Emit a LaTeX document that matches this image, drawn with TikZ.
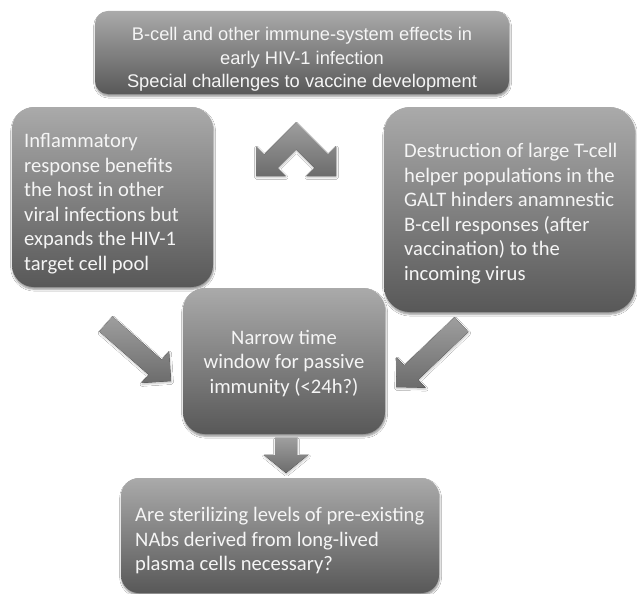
\documentclass[tikz,border=0pt]{standalone}
\usepackage{fontspec}
\setmainfont{Carlito}
\newfontfamily\arialf{Liberation Sans}
\usetikzlibrary{calc,shadows.blur}
\definecolor{boxtop}{RGB}{170,170,170}
\definecolor{boxbot}{RGB}{88,88,88}
\definecolor{arrtop}{RGB}{158,158,158}
\definecolor{arrbot}{RGB}{108,108,108}
\definecolor{txt}{RGB}{245,245,245}
\tikzset{
  box/.style={rectangle, top color=boxtop, bottom color=boxbot, inner sep=0pt,
    blur shadow={shadow xshift=0.6pt, shadow yshift=-2.2pt, shadow blur steps=6, shadow opacity=45}},
  arrowfill/.style={top color=arrtop, bottom color=arrbot,
    blur shadow={shadow xshift=0.5pt, shadow yshift=-1.5pt, shadow blur steps=4, shadow opacity=25}},
  lbl/.style={text=txt, inner sep=0pt, font=\fontsize{20.6}{24.5}\selectfont},
  toplbl/.style={text=txt, inner sep=0pt, align=center, font=\arialf\fontsize{18.3}{23.5}\selectfont},
}
\newcommand{\blockarr}[5]{%
  \coordinate (#1base) at ($(#2)!#5!(#1)$);
  \fill[arrowfill] ($(#1)!#3!90:(#2)$) -- ($(#1base)!#3!90:(#2)$) -- ($(#1base)!#4!90:(#2)$) -- (#2)
    -- ($(#1base)!#4!-90:(#2)$) -- ($(#1base)!#3!-90:(#2)$) -- ($(#1)!#3!-90:(#2)$) -- cycle;}
\begin{document}
\begin{tikzpicture}[x=1pt,y=-1pt]
\useasboundingbox (0,0) rectangle (637,594);
\fill[white] (0,0) rectangle (637,594);
% boxes
\node[box, minimum width=414pt, minimum height=83pt, rounded corners=13pt] (boxT) at (302,52.5) {};
\node[box, minimum width=201pt, minimum height=180pt, rounded corners=22pt] (boxL) at (112.5,197) {};
\node[box, minimum width=251pt, minimum height=205pt, rounded corners=26pt] (boxR) at (509.5,209.5) {};
\node[box, minimum width=202pt, minimum height=146pt, rounded corners=22pt] (boxC) at (284,361) {};
\node[box, minimum width=318pt, minimum height=115pt, rounded corners=18pt] (boxB) at (280,535.5) {};
% texts
\node[toplbl] (tT) at (302,59.5) {B-cell and other immune-system effects in\\early HIV-1 infection\\Special challenges to vaccine development};
\node[lbl, anchor=west, align=left] (tL) at (24,203.5) {Inflammatory\\response benefits\\the host in other\\viral infections but\\expands the HIV-1\\target cell pool};
\node[lbl, anchor=west, align=left] (tR) at (404,213.5) {Destruction of large T-cell\\helper populations in the\\GALT hinders anamnestic\\B-cell responses (after\\vaccination) to the\\incoming virus};
\node[lbl, align=center] (tC) at (284,363.5) {Narrow time\\window for passive\\immunity (<24h?)};
\node[lbl, anchor=west, align=left] (tB) at (135,541) {Are sterilizing levels of pre-existing\\NAbs derived from long-lived\\plasma cells necessary?};
% chevron
\fill[arrowfill] (296,122.5) -- (264.1,154.4) -- (256,146.3) -- (256,176) -- (285.7,176) -- (277.6,167.9) -- (296,149.5)
  -- (314.4,167.9) -- (306.3,176) -- (336,176) -- (336,146.3) -- (327.9,154.4) -- cycle;
% arrows
\coordinate (laT) at (106,324); \coordinate (laH) at (171,381);
\coordinate (raT) at (461.5,324.5); \coordinate (raH) at (396,387);
\coordinate (daT) at (286,438); \coordinate (daH) at (286,473);
\blockarr{laT}{laH}{10pt}{21pt}{21pt}
\blockarr{raT}{raH}{10pt}{21pt}{21pt}
\blockarr{daT}{daH}{11pt}{22pt}{18pt}
\end{tikzpicture}
\end{document}
